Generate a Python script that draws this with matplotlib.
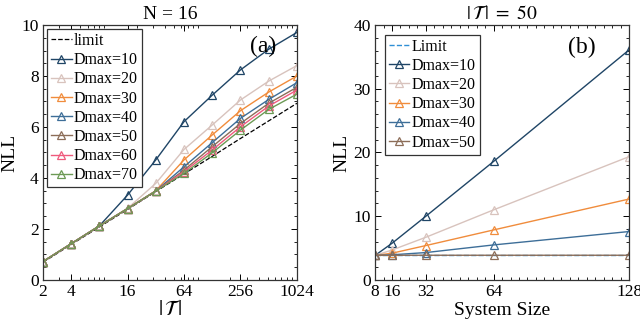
import matplotlib
matplotlib.use("Agg")
import matplotlib.pyplot as plt
from matplotlib.ticker import FixedLocator, NullFormatter, MultipleLocator, LogLocator

plt.rcParams['font.family'] = ['Liberation Serif', 'DejaVu Serif']
plt.rcParams['mathtext.fontset'] = 'stix'

# ---- Panel (a): N = 16 ----
T_vals = [2, 4, 8, 16, 32, 64, 128, 256, 512, 1024]
limit_a = [0.69, 1.39, 2.08, 2.77, 3.47, 4.16, 4.85, 5.55, 6.24, 6.93]
nll_a = {
    "Dmax=10": [0.72, 1.42, 2.12, 3.33, 4.71, 6.21, 7.25, 8.24, 9.05, 9.71],
    "Dmax=20": [0.72, 1.42, 2.12, 2.81, 3.79, 5.12, 6.08, 7.06, 7.80, 8.41],
    "Dmax=30": [0.72, 1.42, 2.12, 2.80, 3.50, 4.71, 5.69, 6.64, 7.37, 8.00],
    "Dmax=40": [0.72, 1.42, 2.12, 2.80, 3.49, 4.44, 5.39, 6.34, 7.08, 7.74],
    "Dmax=50": [0.72, 1.42, 2.12, 2.80, 3.49, 4.31, 5.23, 6.14, 6.93, 7.56],
    "Dmax=60": [0.72, 1.42, 2.12, 2.80, 3.49, 4.25, 5.10, 6.01, 6.82, 7.45],
    "Dmax=70": [0.72, 1.42, 2.12, 2.80, 3.49, 4.18, 4.99, 5.88, 6.69, 7.29],
}
xticks_a = [2, 4, 16, 64, 256, 1024]

# ---- Panel (b): |T| = 50 ----
sizes = [8, 16, 32, 64, 128]
limit_b = [3.91, 3.91, 3.91, 3.91, 3.91]
nll_b = {
    "Dmax=10": [3.85, 5.75, 10.0, 18.6, 36.1],
    "Dmax=20": [3.85, 4.7, 6.7, 11.0, 19.35],
    "Dmax=30": [3.85, 4.2, 5.4, 7.85, 12.7],
    "Dmax=40": [3.85, 3.95, 4.3, 5.5, 7.6],
    "Dmax=50": [3.85, 3.88, 3.88, 3.88, 3.88],
}
xticks_b = [8, 16, 32, 64, 128]

colors = {
    "Dmax=10": "#1f4566",
    "Dmax=20": "#d8c3bd",
    "Dmax=30": "#f08c3c",
    "Dmax=40": "#3d6e98",
    "Dmax=50": "#8c6d58",
    "Dmax=60": "#ef5a7c",
    "Dmax=70": "#6c9a55",
}

fig = plt.figure(figsize=(6.4, 3.29), dpi=100)
ax1 = fig.add_axes([0.067, 0.149, 0.397, 0.775])
ax2 = fig.add_axes([0.586, 0.149, 0.397, 0.775])

def style(ax):
    ax.tick_params(which='both', direction='in', top=True, right=True, labelsize=12.5, pad=3)
    ax.tick_params(which='major', length=4, width=0.7)
    ax.tick_params(which='minor', length=2, width=0.6)
    for s in ax.spines.values():
        s.set_linewidth(0.9)
        s.set_color('#333333')

legkw = dict(loc='upper left', fontsize=11.5, handlelength=1.3, handletextpad=0.15,
             borderpad=0.25, labelspacing=0.2, fancybox=False,
             framealpha=1, edgecolor='#333333')

# Panel a
ax1.plot(T_vals, limit_a, '--', color='black', lw=0.9, label='limit')
for k, v in nll_a.items():
    ax1.plot(T_vals, v, '-', marker='^', color=colors[k], mfc='none', mew=0.9,
             ms=6, lw=1.0, label=k)
ax1.set_xscale('log')
ax1.set_xlim(2, 1024)
ax1.set_ylim(0, 10)
ax1.xaxis.set_major_locator(FixedLocator(xticks_a))
ax1.set_xticklabels([str(t) for t in xticks_a])
ax1.xaxis.set_minor_locator(LogLocator(base=10, subs=range(2, 10)))
ax1.xaxis.set_minor_formatter(NullFormatter())
ax1.yaxis.set_major_locator(MultipleLocator(2))
ax1.yaxis.set_minor_locator(MultipleLocator(0.5))
style(ax1)
ax1.set_ylabel('NLL', fontsize=14, labelpad=2)
ax1.set_xlabel(r'$|\,\mathcal{T}\,|$', fontsize=15, labelpad=0)
ax1.set_title('N = 16', fontsize=14, pad=4)
ax1.text(0.92, 0.915, '(a)', transform=ax1.transAxes, fontsize=17, ha='right', va='center')
leg = ax1.legend(borderaxespad=0.25, **legkw)
leg.get_frame().set_linewidth(0.9)

# Panel b
ax2.plot(sizes, limit_b, '--', color='#2f8fd6', lw=1.0, label='Limit')
for k, v in nll_b.items():
    ax2.plot(sizes, v, '-', marker='^', color=colors[k], mfc='none', mew=0.9,
             ms=6, lw=1.0, label=k)
ax2.set_xlim(8, 128)
ax2.set_ylim(0, 40)
ax2.xaxis.set_major_locator(FixedLocator(xticks_b))
ax2.xaxis.set_minor_locator(MultipleLocator(4))
ax2.yaxis.set_major_locator(MultipleLocator(10))
ax2.yaxis.set_minor_locator(MultipleLocator(2))
style(ax2)
ax2.set_ylabel('NLL', fontsize=14, labelpad=2)
ax2.set_xlabel('System Size', fontsize=14, labelpad=1)
ax2.set_title(r'$|\,\mathcal{T}\,|\ =\ 50$', fontsize=14, pad=4)
ax2.text(0.87, 0.91, '(b)', transform=ax2.transAxes, fontsize=17, ha='right', va='center')
leg = ax2.legend(borderaxespad=0.6, **legkw)
leg.get_frame().set_linewidth(0.9)

fig.savefig('out.png', dpi=100)
